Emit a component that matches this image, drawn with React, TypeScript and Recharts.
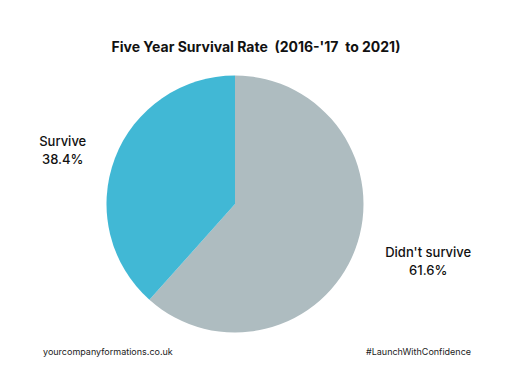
import React from "react";
import { PieChart, Pie, Cell } from "recharts";

const categories = ["Didn't survive", "Survive"];
const values = [61.6, 38.4];
const colors = ["#AEBCC0", "#41B8D5"];
const labelTexts = ["61.6%", "38.4%"];
const title = "Five Year Survival Rate  (2016-'17  to 2021)";
const footerLeft = "yourcompanyformations.co.uk";
const footerRight = "#LaunchWithConfidence";

const data = categories.map((name, i) => ({ name, value: values[i] }));

const FONT = "Inter, 'Open Sans', sans-serif";

const renderLabel = (props: any) => {
  const { cx, cy, midAngle, outerRadius, index } = props;
  const RAD = Math.PI / 180;
  const extra = index === 0 ? 73 : 52;
  const shift = index === 0 ? 4.4 : 3.5;
  const r = outerRadius + extra;
  const a = (midAngle + shift) * RAD;
  const x = cx + r * Math.cos(-a);
  const y = cy + r * Math.sin(-a);
  return (
    <text x={x} y={y} textAnchor="middle" fill="#111" fontFamily={FONT} fontSize={13} fontWeight={500}>
      <tspan x={x} dy={-4.5}>{categories[index]}</tspan>
      <tspan x={x} dy={18}>{labelTexts[index]}</tspan>
    </text>
  );
};

export default function App() {
  return (
    <div style={{ position: "absolute", left: 0, top: 0, width: 512, height: 384, background: "#fff" }}>
      <PieChart width={512} height={384} margin={{ top: 0, right: 0, bottom: 0, left: 0 }}>
        <text x={256} y={52} textAnchor="middle" fontFamily={FONT} fontSize={14} fontWeight={700} fill="#111" style={{ whiteSpace: "pre" }}>
          {title}
        </text>
        <Pie
          data={data}
          dataKey="value"
          nameKey="name"
          cx={235}
          cy={204}
          outerRadius={128.5}
          startAngle={90}
          endAngle={-270}
          stroke="none"
          label={renderLabel}
          labelLine={false}
          isAnimationActive={false}
        >
          {data.map((d, i) => (
            <Cell key={d.name} fill={colors[i]} />
          ))}
        </Pie>
        <text x={43} y={355} fontFamily={FONT} fontSize={9} fill="#222">{footerLeft}</text>
        <text x={366} y={355} fontFamily={FONT} fontSize={9} fill="#222">{footerRight}</text>
      </PieChart>
    </div>
  );
}
